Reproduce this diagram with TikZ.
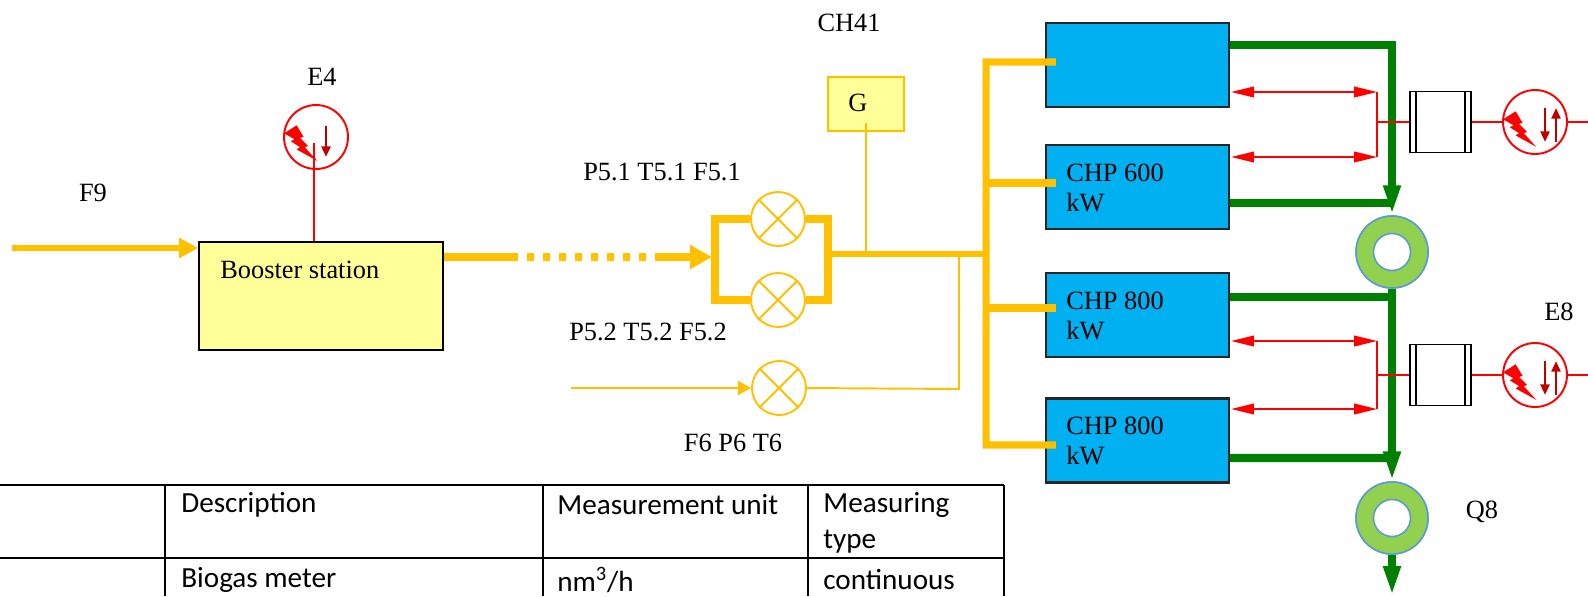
\documentclass[tikz,border=0pt]{standalone}
\usepackage{fontspec}
\setmainfont{Liberation Serif}
\newfontfamily\tabfont{Carlito}
\usetikzlibrary{arrows.meta,calc}
\definecolor{yel}{HTML}{FFC000}
\definecolor{boostfill}{HTML}{FFFF99}
\definecolor{chpblue}{HTML}{00B0F0}
\definecolor{dgreen}{HTML}{008000}
\definecolor{ringgreen}{HTML}{92D050}
\definecolor{ringblue}{HTML}{5B9BD5}
\definecolor{dred}{HTML}{C00000}
\begin{document}
\begin{tikzpicture}[x=0.02cm,y=-0.02cm,
  lbl/.style={font=\fontsize{15}{17}\selectfont, inner sep=0},
  tabtxt/.style={font=\tabfont\fontsize{16.6}{19}\selectfont, inner sep=0, anchor=west},
  tabline/.style={draw=black, line width=0.9pt},
  yelthick/.style={draw=yel, line width=4pt},
  yelthin/.style={draw=yel, line width=1.1pt},
  greenline/.style={draw=dgreen, line width=4.6pt},
  redline/.style={draw=red, line width=1.1pt},
  chpbox/.style={rectangle, draw=black!85, line width=1.2pt, fill=chpblue, minimum width=3.66cm, minimum height=1.68cm, inner sep=0},
  meter/.style={circle, draw=yel, line width=1.1pt, fill=white, minimum size=1.08cm, inner sep=0},
  ring/.style={circle, draw=ringblue, line width=0.9pt, fill=ringgreen, minimum size=1.44cm, inner sep=0},
  hole/.style={circle, draw=ringblue, line width=0.9pt, fill=white, minimum size=0.74cm, inner sep=0},
  esym/.style={circle, draw=red, line width=1.1pt, fill=white, minimum size=1.28cm, inner sep=0},
  trafo/.style={rectangle, draw=black, line width=1pt, fill=white, minimum width=1.22cm, minimum height=1.22cm, inner sep=0},
  zapsym/.pic={\fill[red] (0,9) -- (11,2) -- (17,12) -- (14,13) -- (21,20) -- (18,21) -- (29,33) -- (11,23) -- (14,21) -- (6,16) -- (9,14) -- cycle;},
  gtip/.style={-{Triangle[length=17pt,width=9pt]}},
  rtips/.style={{Triangle[length=13pt,width=6pt]}-{Triangle[length=13pt,width=6pt]}},
  ditip/.style={-{Triangle[length=6pt,width=5pt]}}
]
\useasboundingbox (0,0) rectangle (1588,596);

% ---------- booster and E4 ----------
\node[rectangle, draw=black, line width=0.9pt, fill=boostfill, minimum width=4.88cm, minimum height=2.16cm, inner sep=0] (booster) at (321,296) {};
\node[lbl, anchor=west] (tBS) at (220,270) {Booster station};
\node[esym] (e4) at (316,137) {};
\pic[scale=1.15] at ($(e4.center)+(-32,-14)$) {zapsym};
\draw[dred, line width=1.6pt, ditip] ($(e4.center)+(10,-11)$) -- ($(e4.center)+(10,20)$);
\coordinate (e4l) at ($(e4.center)+(-2,6)$);
\draw[redline] (e4l) -- (e4l |- booster.north);
\node[lbl] (tE4) at (322,77) {E4};

% F9 input
\coordinate (f9s) at (12,248);
\draw[draw=yel, line width=3.4pt, -{Triangle[length=11pt,width=11pt]}] (f9s) -- (f9s -| booster.west);
\node[lbl] (tF9) at (93,193) {F9};

% ---------- meters ----------
\node[meter] (m1) at (778,219) {};
\node[meter] (m2) at (778,300) {};
\node[meter] (m3) at (779,388) {};
\foreach \m in {m1,m2,m3}{
  \draw[yelthin] (\m.45) -- (\m.225) (\m.135) -- (\m.315);
}
\coordinate (brl) at (712,257);
\draw[draw=yel, line width=4pt, dash pattern=on 1.48cm off 0.18cm on 0.14cm off 0.18cm on 0.14cm off 0.18cm on 0.14cm off 0.18cm on 0.14cm off 0.18cm on 0.14cm off 0.18cm on 0.14cm off 0.18cm on 0.14cm off 0.18cm on 0.14cm off 0.18cm on 10cm off 0cm, -{Triangle[length=12.5pt,width=13pt]}] ($(booster.east)+(0,-39)$) -- (brl);
\draw[yelthick] (m1.west) -- (715,219) -- (715,300) -- (m2.west);
\draw[yelthick] (m1.east) -- (828,219) -- (828,300) -- (m2.east);
\node[lbl] (tP51) at (662,172) {P5.1 T5.1 F5.1};
\node[lbl] (tP52) at (648,332) {P5.2 T5.2 F5.2};
\node[lbl] (tF6) at (733,443) {F6 P6 T6};

% G
\node[rectangle, draw=yel, line width=0.9pt, fill=boostfill, minimum width=1.52cm, minimum height=1.08cm, inner sep=0] (gbox) at (866,104) {};
\node[lbl] (tG) at (858,103) {G};
\node[lbl] (tCH) at (849,23) {CH41};

% bus
\coordinate (busl) at (828,254);
\coordinate (busr) at (986,254);
\draw[draw=yel, line width=3.6pt] (busl) -- (busr);
\coordinate (gl) at (866,254);
\draw[yelthin] ($(gbox.south)+(0,-9)$) -- (gl);
\coordinate (f6s) at (571,388);
\draw[yelthin, -{Triangle[length=7.5pt,width=8pt]}] (f6s) -- (m3.west);
\coordinate (f6c) at (959,389);
\coordinate (f6t) at (959,254);
\draw[yelthin] (m3.east) -- (f6c) -- (f6t);

% ---------- CHP boxes ----------
\node[chpbox] (chp1) at (1137.5,65) {};
\node[chpbox] (chp2) at (1137.5,187) {};
\node[chpbox] (chp3) at (1137.5,315) {};
\node[chpbox] (chp4) at (1137.5,440.5) {};
\node[lbl, anchor=west, align=left] (t2) at (1066,188) {CHP 600\\kW};
\node[lbl, anchor=west, align=left] (t3) at (1066,316) {CHP 800\\kW};
\node[lbl, anchor=west, align=left] (t4) at (1066,441) {CHP 800\\kW};

\coordinate (vbt) at (986,62);
\coordinate (vbb) at (986,445);
\draw[yelthick] ($(chp1.west)+(11,-3)$) -- (vbt) -- (vbb) -- ($(chp4.west)+(11,4.5)$);
\draw[yelthick] (986,183) -- ($(chp2.west)+(11,-4)$);
\draw[yelthick] (986,308) -- ($(chp3.west)+(11,-7)$);

% ---------- rings & green ----------
\node[ring] (ring1) at (1392,252) {};
\node[ring] (ring2) at (1392,518) {};
\draw[greenline, gtip] ($(chp1.east)+(0,-20)$) -| (ring1.north);
\coordinate (g2) at (1392,203);
\draw[greenline] ($(chp2.east)+(0,16)$) -- (g2);
\draw[greenline, gtip] (ring1.south) -- (ring2.north);
\coordinate (g3) at (1392,297);
\draw[greenline] ($(chp3.east)+(0,-18)$) -- (g3);
\coordinate (g4) at (1392,458);
\draw[greenline] ($(chp4.east)+(0,17.5)$) -- (g4);
\coordinate (gend) at (1392,596);
\draw[greenline, gtip] (ring2.south) -- (gend);
\node[ring] at (ring1) {};
\node[ring] at (ring2) {};
\node[hole] (hole1) at (ring1) {};
\node[hole] (hole2) at (ring2) {};
\node[lbl] (tQ8) at (1482,512) {Q8};

% ---------- red links, transformers, E8 ----------
\coordinate (r1a) at (1377,92);
\coordinate (r1b) at (1377,157);
\coordinate (r1m) at (1377,122);
\draw[redline, rtips] ($(chp1.east)+(1,27)$) -- (r1a);
\draw[redline, rtips] ($(chp2.east)+(1,-30)$) -- (r1b);
\draw[redline] (r1a) -- (r1b);
\coordinate (r2a) at (1377,341);
\coordinate (r2b) at (1377,409);
\coordinate (r2m) at (1377,375);
\draw[redline, rtips] ($(chp3.east)+(1,26)$) -- (r2a);
\draw[redline, rtips] ($(chp4.east)+(1,-31.5)$) -- (r2b);
\draw[redline] (r2a) -- (r2b);

\node[trafo] (tr1) at (1440.5,122) {};
\node[trafo] (tr2) at (1440.5,375) {};
\foreach \t in {tr1,tr2}{
  \draw[black, line width=1pt] ($(\t.north west)+(7,0)$) -- ($(\t.south west)+(7,0)$);
  \draw[black, line width=1pt] ($(\t.north east)+(-7,0)$) -- ($(\t.south east)+(-7,0)$);
}
\draw[redline] (r1m) -- (tr1.west);
\draw[redline] (r2m) -- (tr2.west);

\node[esym] (e8a) at (1535,122) {};
\node[esym] (e8b) at (1535,375) {};
\foreach \e in {e8a,e8b}{
  \pic[scale=1.15] at ($(\e.center)+(-32,-13)$) {zapsym};
  \draw[dred, line width=1.6pt, ditip] ($(\e.center)+(10,-14)$) -- ($(\e.center)+(10,20)$);
  \draw[dred, line width=1.6pt, ditip] ($(\e.center)+(21,20)$) -- ($(\e.center)+(21,-14)$);
}
\draw[redline] (tr1.east) -- (e8a.west);
\draw[redline] (tr2.east) -- (e8b.west);
\coordinate (x1) at (1588,122);
\coordinate (x2) at (1588,375);
\draw[redline] (e8a.east) -- (x1);
\draw[redline] (e8b.east) -- (x2);
\node[lbl] (tE8) at (1559,312) {E8};

% ---------- table ----------
\draw[tabline] (0,485) -- (1004,485);
\draw[tabline] (0,558) -- (1004,558);
\foreach \cx in {165,543,808,1004}{
  \draw[tabline] (\cx,485) -- (\cx,596);
}
\node[tabtxt] (c1) at (181,505) {Description};
\node[tabtxt] (c2) at (557,505) {Measurement unit};
\node[tabtxt] (c3) at (823,505) {Measuring};
\node[tabtxt] (c3b) at (823,542) {type};
\node[tabtxt] (d1) at (181,580) {Biogas meter};
\node[tabtxt] (d2) at (557,580) {nm\textsuperscript{3}/h};
\node[tabtxt] (d3) at (823,580) {continuous};
\end{tikzpicture}
\end{document}
